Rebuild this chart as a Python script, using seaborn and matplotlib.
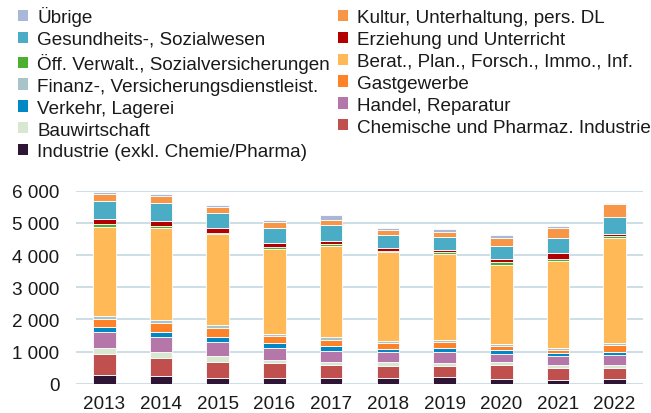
import matplotlib
matplotlib.use("Agg")
import matplotlib.pyplot as plt
import matplotlib.ticker as mticker
from matplotlib.patches import Patch
import numpy as np
import pandas as pd
import seaborn as sns

years = ["2013", "2014", "2015", "2016", "2017", "2018", "2019", "2020", "2021", "2022"]

# stacked from bottom to top
industrie   = [270, 225, 190, 185, 190, 190, 215, 160, 130, 155]
chemie      = [665, 580, 495, 445, 400, 360, 340, 410, 360, 340]
bau         = [165, 165, 170, 110, 70, 115, 90, 90, 80, 75]
handel      = [495, 470, 430, 385, 355, 320, 345, 260, 290, 315]
verkehr     = [175, 165, 180, 150, 160, 95, 120, 140, 105, 95]
gastgewerbe = [255, 285, 275, 195, 195, 195, 185, 115, 85, 235]
finanz      = [95, 100, 80, 70, 80, 55, 60, 55, 75, 50]
berat       = [2750, 2845, 2820, 2650, 2830, 2750, 2670, 2475, 2700, 3265]
oeff        = [90, 65, 60, 75, 70, 60, 65, 80, 60, 60]
erziehung   = [170, 160, 150, 110, 100, 70, 70, 85, 190, 70]
gesundheit  = [565, 560, 465, 475, 495, 425, 390, 405, 440, 510]
kultur      = [210, 210, 180, 180, 155, 140, 180, 260, 320, 405]
uebrige     = [70, 80, 75, 65, 160, 70, 70, 90, 65, 55]

series = [
    ("Industrie (exkl. Chemie/Pharma)", industrie, "#2E1435"),
    ("Chemische und Pharmaz. Industrie", chemie, "#C0504D"),
    ("Bauwirtschaft", bau, "#D8E7D0"),
    ("Handel, Reparatur", handel, "#B576AA"),
    ("Verkehr, Lagerei", verkehr, "#0088C4"),
    ("Gastgewerbe", gastgewerbe, "#FD8228"),
    ("Finanz-, Versicherungsdienstleist.", finanz, "#A6C4CA"),
    ("Berat., Plan., Forsch., Immo., Inf.", berat, "#FFB957"),
    ("Öff. Verwalt., Sozialversicherungen", oeff, "#4DAF30"),
    ("Erziehung und Unterricht", erziehung, "#B20000"),
    ("Gesundheits-, Sozialwesen", gesundheit, "#4BACC6"),
    ("Kultur, Unterhaltung, pers. DL", kultur, "#F79646"),
    ("Übrige", uebrige, "#AAB8D8"),
]

FS = 13.6

sns.set_theme(style="white")
plt.rcParams["font.family"] = ["Liberation Sans", "DejaVu Sans"]

fig = plt.figure(figsize=(6.51, 4.14), dpi=100)
ax = fig.add_axes([76 / 651, 1 - 384.7 / 414, (643 - 76) / 651, (384.7 - 191.7) / 414])

bottom = np.zeros(len(years))
for name, vals, col in series:
    df = pd.DataFrame({"Jahr": years, "Wert": vals})
    sns.barplot(data=df, x="Jahr", y="Wert", bottom=bottom, color=col,
                width=0.4, edgecolor="white", linewidth=0.6, ax=ax,
                saturation=1, zorder=3)
    bottom = bottom + np.array(vals)

ax.set_xlim(-0.5, len(years) - 0.5)
ax.set_ylim(0, 6000)
ax.set_yticks([0, 1000, 2000, 3000, 4000, 5000, 6000])
ax.yaxis.set_major_formatter(mticker.FuncFormatter(lambda v, p: f"{v:,.0f}".replace(",", " ")))
ax.set_xlabel("")
ax.set_ylabel("")
ax.grid(axis="y", color="#C5D8E2", linewidth=1.2, zorder=0)
ax.grid(axis="x", visible=False)
ax.set_axisbelow(True)
for s in ax.spines.values():
    s.set_visible(False)
ax.tick_params(axis="y", length=0, pad=12, labelsize=FS, labelcolor="#1a1a1a")
ax.tick_params(axis="x", length=0, pad=8, labelsize=FS, labelcolor="#1a1a1a")

# legend: reversed stack order, row-major in 2 columns
rev = series[::-1]
col1 = rev[0::2]
col2 = rev[1::2]
ordered = col1 + col2
handles = [Patch(facecolor=c, edgecolor="none") for _, _, c in ordered]
labels = [n for n, _, _ in ordered]
fig.legend(handles, labels, ncol=2, loc="upper left",
           bbox_to_anchor=(18 / 651, 1 - 7 / 414), frameon=False,
           fontsize=FS, handlelength=0.53, handleheight=0.53,
           handletextpad=0.48, labelspacing=0.26, columnspacing=0.42,
           borderpad=0, borderaxespad=0, labelcolor="#1a1a1a")

fig.savefig("out.png", dpi=100)
